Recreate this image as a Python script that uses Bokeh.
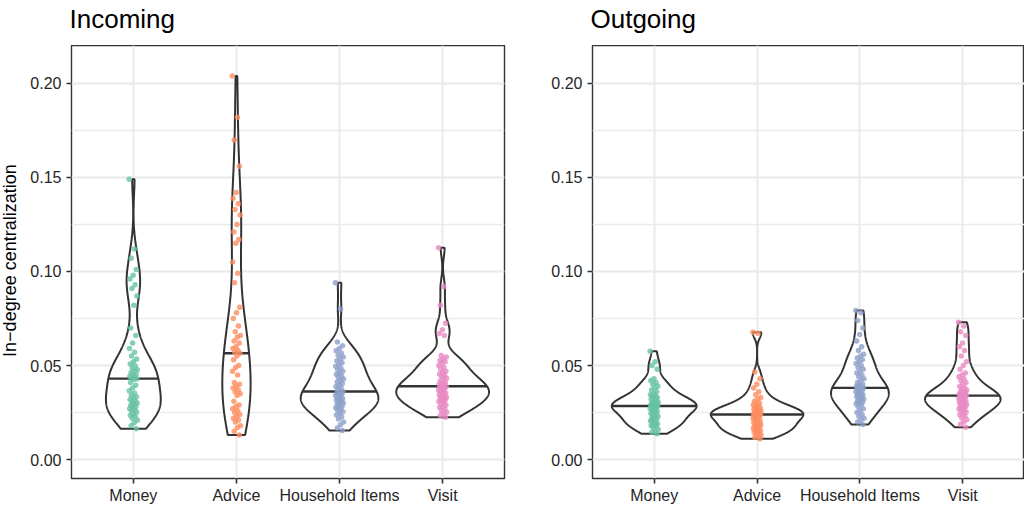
import numpy as np
from bokeh.plotting import figure
from bokeh.layouts import row, column
from bokeh.models import Range1d, FixedTicker, SingleIntervalTicker, PrintfTickFormatter
from bokeh.core.properties import value
from bokeh.embed import file_html
from bokeh.resources import INLINE

categories = ["Money", "Advice", "Household Items", "Visit"]
colors = ["#66C2A5", "#FC8D62", "#8DA0CB", "#E78AC3"]
panel_titles = ["Incoming", "Outgoing"]
y_label = "In\u2212degree centralization"

# ---- Incoming ----
in_money = [0.149, 0.112, 0.107, 0.101, 0.098, 0.096, 0.093, 0.091, 0.087, 0.082,
            0.070, 0.066, 0.062, 0.059, 0.057, 0.055, 0.0535, 0.052, 0.0508, 0.0497,
            0.0487, 0.0478, 0.047, 0.0462, 0.0455, 0.0448, 0.0442, 0.0437, 0.0433, 0.043,
            0.0425, 0.041, 0.0395, 0.038, 0.0366, 0.0354, 0.0343, 0.0334, 0.0326, 0.0319,
            0.0312, 0.0306, 0.030, 0.0294, 0.0288, 0.0282, 0.0276, 0.027, 0.0264, 0.0258,
            0.0251, 0.0244, 0.0236, 0.0228, 0.0219, 0.0209, 0.0196, 0.018, 0.0163]
in_advice = [0.204, 0.182, 0.170, 0.156, 0.142, 0.139, 0.136, 0.133, 0.130, 0.125,
             0.121, 0.117, 0.115, 0.105, 0.099, 0.094, 0.081, 0.078, 0.075, 0.071,
             0.068, 0.066, 0.065, 0.063, 0.062, 0.060, 0.059, 0.058, 0.057, 0.0565,
             0.055, 0.053, 0.050, 0.049, 0.047, 0.045, 0.041, 0.040, 0.039, 0.038,
             0.037, 0.036, 0.035, 0.034, 0.031, 0.029, 0.028, 0.027, 0.026, 0.025,
             0.024, 0.023, 0.022, 0.021, 0.020, 0.018, 0.017, 0.015, 0.013]
in_household = [0.094, 0.080, 0.0625, 0.0605, 0.059, 0.0578, 0.0566, 0.0555, 0.0545, 0.0535,
                0.0525, 0.0515, 0.0505, 0.0496, 0.0487, 0.0478, 0.0469, 0.046, 0.0452, 0.0444,
                0.0436, 0.0428, 0.042, 0.0412, 0.0404, 0.0396, 0.0388, 0.038, 0.0372, 0.0362,
                0.0358, 0.0354, 0.0350, 0.0345, 0.0340, 0.0335, 0.0330, 0.0325, 0.0320, 0.0315,
                0.0310, 0.0305, 0.0300, 0.0295, 0.0290, 0.0285, 0.0280, 0.0274, 0.0268, 0.0261,
                0.0254, 0.0246, 0.0237, 0.0227, 0.0215, 0.0200, 0.0185, 0.0168, 0.0154]
in_visit = [0.1126, 0.092, 0.082, 0.0725, 0.069, 0.067, 0.066, 0.0553, 0.0545, 0.0535,
            0.0527, 0.052, 0.051, 0.050, 0.049, 0.048, 0.047, 0.0462, 0.0455, 0.0447,
            0.044, 0.0432, 0.0425, 0.0418, 0.041, 0.0405, 0.040, 0.0395, 0.0392, 0.039,
            0.0387, 0.0383, 0.0378, 0.0373, 0.0368, 0.0363, 0.0358, 0.0353, 0.0348, 0.0343,
            0.0338, 0.0334, 0.0330, 0.0326, 0.0322, 0.0318, 0.0313, 0.0308, 0.0302, 0.0296,
            0.0290, 0.0283, 0.0276, 0.0268, 0.0260, 0.0252, 0.0243, 0.0234, 0.0225]

# ---- Outgoing ----
out_money = [0.0576, 0.052, 0.050, 0.048, 0.043, 0.042, 0.041, 0.040, 0.039, 0.038,
             0.037, 0.036, 0.035, 0.0345, 0.034, 0.0335, 0.033, 0.0325, 0.032, 0.0315,
             0.031, 0.0305, 0.030, 0.0298, 0.0295, 0.0292, 0.029, 0.0288, 0.0287, 0.0285,
             0.0283, 0.028, 0.0278, 0.0275, 0.027, 0.0265, 0.026, 0.0255, 0.025, 0.0245,
             0.024, 0.0235, 0.023, 0.0225, 0.022, 0.0215, 0.021, 0.0205, 0.020, 0.0195,
             0.019, 0.0185, 0.018, 0.0175, 0.017, 0.016, 0.015, 0.0145, 0.0137]
out_advice = [0.0677, 0.0672, 0.0465, 0.043, 0.040, 0.038, 0.036, 0.0345, 0.033, 0.032,
              0.031, 0.030, 0.0295, 0.029, 0.0285, 0.028, 0.0275, 0.027, 0.0267, 0.0263,
              0.026, 0.0257, 0.0254, 0.0251, 0.0248, 0.0246, 0.0244, 0.0242, 0.0240, 0.0239,
              0.0237, 0.0232, 0.0228, 0.0224, 0.0219, 0.0215, 0.0210, 0.0206, 0.0202, 0.0198,
              0.0194, 0.0190, 0.0186, 0.0182, 0.0178, 0.0174, 0.0170, 0.0166, 0.0162, 0.0158,
              0.0154, 0.0150, 0.0145, 0.0140, 0.0135, 0.0130, 0.0124, 0.0117, 0.0110]
out_household = [0.0793, 0.078, 0.074, 0.070, 0.0665, 0.063, 0.060, 0.058, 0.056, 0.055,
                 0.054, 0.053, 0.052, 0.051, 0.050, 0.049, 0.048, 0.047, 0.046, 0.045,
                 0.044, 0.043, 0.042, 0.041, 0.040, 0.0395, 0.039, 0.0387, 0.0384, 0.0381,
                 0.0378, 0.0375, 0.037, 0.0365, 0.036, 0.0355, 0.035, 0.0345, 0.034, 0.0335,
                 0.033, 0.0325, 0.032, 0.0315, 0.031, 0.0305, 0.030, 0.0295, 0.029, 0.028,
                 0.027, 0.026, 0.025, 0.024, 0.023, 0.022, 0.021, 0.020, 0.0186]
out_visit = [0.073, 0.071, 0.068, 0.066, 0.062, 0.060, 0.058, 0.055, 0.052, 0.050,
             0.048, 0.046, 0.045, 0.044, 0.043, 0.042, 0.041, 0.040, 0.039, 0.038,
             0.0375, 0.037, 0.0365, 0.036, 0.0355, 0.035, 0.0347, 0.0345, 0.0342, 0.034,
             0.0337, 0.0334, 0.0331, 0.0327, 0.0323, 0.0319, 0.0315, 0.0311, 0.0307, 0.0303,
             0.0299, 0.0295, 0.0291, 0.0287, 0.0283, 0.0279, 0.0274, 0.0269, 0.0264, 0.0258,
             0.0252, 0.0245, 0.0238, 0.0230, 0.0221, 0.0211, 0.0200, 0.0187, 0.0172]

panels = [
    [in_money, in_advice, in_household, in_visit],
    [out_money, out_advice, out_household, out_visit],
]

FONT = "Liberation Sans"
INK = "#333333"
TOP_H = 45      # strip holding the panel titles
MAIN_H = 461    # plotting figures
YLAB_W = 24     # strip holding the y-axis title


def kde_nrd0(x, grid):
    x = np.asarray(x, dtype=float)
    n = len(x)
    sd = np.std(x, ddof=1)
    q75, q25 = np.percentile(x, [75, 25])
    lo = min(sd, (q75 - q25) / 1.34)
    bw = 0.9 * lo * n ** -0.2
    z = (grid[:, None] - x[None, :]) / bw
    return np.exp(-0.5 * z ** 2).sum(axis=1) / (n * bw * np.sqrt(2 * np.pi))


def text_strip(width, height, x, y, text, size, angle=0.0, align="left",
               baseline="alphabetic"):
    f = figure(width=width, height=height, output_backend="svg", toolbar_location=None,
               x_range=Range1d(0, width), y_range=Range1d(0, height),
               x_axis_type=None, y_axis_type=None,
               min_border_left=0, min_border_right=0, min_border_top=0, min_border_bottom=0)
    f.outline_line_color = None
    f.background_fill_color = "white"
    f.border_fill_color = "white"
    f.text(x=[x], y=[y], text=[text], angle=angle, text_font=value(FONT),
           text_font_size=size, text_color="#000000", text_align=align,
           text_baseline=baseline)
    return f


def make_panel(groups, width, border_left, border_right):
    p = figure(width=width, height=MAIN_H, output_backend="svg", toolbar_location=None,
               x_range=Range1d(0.4, 4.6), y_range=Range1d(-0.0101, 0.2202),
               min_border_left=border_left, min_border_right=border_right,
               min_border_top=0, min_border_bottom=28)
    p.background_fill_color = "white"
    p.border_fill_color = "white"
    p.outline_line_color = INK
    p.outline_line_width = 1.4

    p.xaxis.ticker = FixedTicker(ticks=[1, 2, 3, 4])
    p.xaxis.major_label_overrides = {i + 1: c for i, c in enumerate(categories)}
    p.yaxis.ticker = SingleIntervalTicker(interval=0.05, num_minor_ticks=2)
    p.yaxis.formatter = PrintfTickFormatter(format="%.2f")
    for ax in (p.xaxis[0], p.yaxis[0]):
        ax.axis_line_color = None
        ax.major_tick_line_color = INK
        ax.major_tick_line_width = 1.6
        ax.major_tick_out = 5
        ax.major_tick_in = 0
        ax.minor_tick_line_color = None
        ax.major_label_text_font = FONT
        ax.major_label_text_font_size = "16px"
        ax.major_label_text_color = "#262626"
    p.xaxis.major_label_standoff = 3
    p.yaxis.major_label_standoff = 5

    p.xgrid.grid_line_color = "#EBEBEB"
    p.xgrid.grid_line_width = 2
    p.ygrid.grid_line_color = "#EBEBEB"
    p.ygrid.grid_line_width = 2
    p.ygrid.minor_grid_line_color = "#EBEBEB"
    p.ygrid.minor_grid_line_width = 1.4

    # densities (ggplot-like: trimmed, scale = "area")
    grids, dens = [], []
    for vals in groups:
        v = np.asarray(vals, dtype=float)
        g = np.linspace(v.min(), v.max(), 512)
        grids.append(g)
        dens.append(kde_nrd0(v, g))
    dmax = max(d.max() for d in dens)

    for i, vals in enumerate(groups):
        c = i + 1
        g, d = grids[i], dens[i]
        hw = 0.45 * d / dmax
        xs = np.concatenate([c - hw, (c + hw)[::-1]])
        ys = np.concatenate([g, g[::-1]])
        p.patch(xs, ys, fill_color="white", line_color=INK, line_width=2.0)
        med = float(np.median(vals))
        mhw = float(np.interp(med, g, hw))
        p.line([c - mhw, c + mhw], [med, med], line_color=INK, line_width=2.4)

    for i, vals in enumerate(groups):
        c = i + 1
        n = len(vals)
        offs = 0.04 * (((np.arange(n) * 0.6180339887) % 1.0) * 2 - 1)
        p.scatter(c + offs, vals, size=5.5, fill_color=colors[i], line_color=None,
                  fill_alpha=0.8)
    return p


t1 = text_strip(521, TOP_H, 69, 27, panel_titles[0], "26px")
t2 = text_strip(503, TOP_H, 69, 27, panel_titles[1], "26px")
yl = text_strip(YLAB_W, MAIN_H, 9, 232, y_label, "18px", angle=np.pi / 2,
                align="center", baseline="middle")
p1 = make_panel(panels[0], 497, 47, 17)
p2 = make_panel(panels[1], 503, 71, 0)

layout = column(row(t1, t2), row(yl, p1, p2))
open("out.html", "w").write(file_html(layout, INLINE))
